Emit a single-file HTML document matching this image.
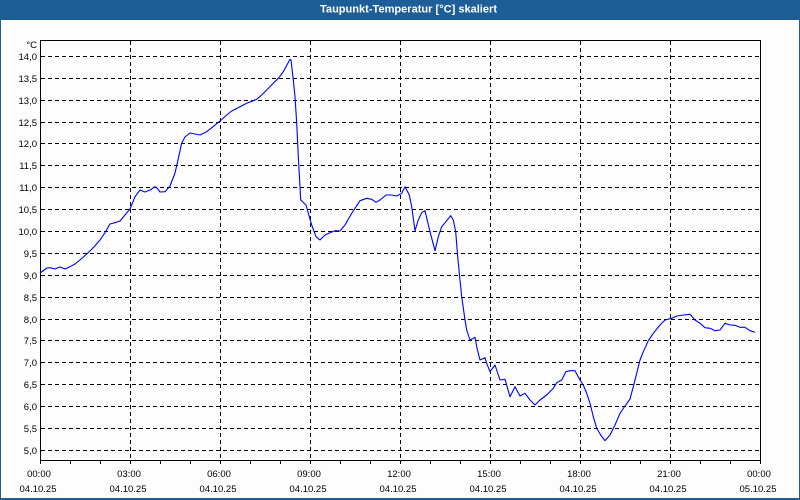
<!DOCTYPE html>
<html>
<head>
<meta charset="utf-8">
<style>
  html,body{margin:0;padding:0;background:#1e5e98;}
  body{width:800px;height:500px;overflow:hidden;position:relative;}
  svg{display:block;}
  text{font-family:"Liberation Sans",sans-serif;}
</style>
</head>
<body>
<svg width="800" height="500" viewBox="0 0 800 500" xmlns="http://www.w3.org/2000/svg">
  <!-- frame -->
  <rect x="0" y="0" width="800" height="500" fill="#1e5e98"/>
  <rect x="1" y="20" width="798" height="478" fill="#fcfdfc"/>
  <!-- title -->
  <text x="408.5" y="12.5" font-size="11" font-weight="bold" fill="#ffffff" text-anchor="middle" textLength="177" lengthAdjust="spacingAndGlyphs">Taupunkt-Temperatur [°C] skaliert</text>

  <!-- horizontal grid -->
  <g stroke="#000" stroke-width="1" stroke-dasharray="4,3" shape-rendering="crispEdges" fill="none">
    <line x1="41" y1="56.5" x2="759" y2="56.5"/>
    <line x1="41" y1="78.5" x2="759" y2="78.5"/>
    <line x1="41" y1="100.5" x2="759" y2="100.5"/>
    <line x1="41" y1="122.5" x2="759" y2="122.5"/>
    <line x1="41" y1="143.5" x2="759" y2="143.5"/>
    <line x1="41" y1="165.5" x2="759" y2="165.5"/>
    <line x1="41" y1="187.5" x2="759" y2="187.5"/>
    <line x1="41" y1="209.5" x2="759" y2="209.5"/>
    <line x1="41" y1="231.5" x2="759" y2="231.5"/>
    <line x1="41" y1="253.5" x2="759" y2="253.5"/>
    <line x1="41" y1="275.5" x2="759" y2="275.5"/>
    <line x1="41" y1="297.5" x2="759" y2="297.5"/>
    <line x1="41" y1="319.5" x2="759" y2="319.5"/>
    <line x1="41" y1="340.5" x2="759" y2="340.5"/>
    <line x1="41" y1="362.5" x2="759" y2="362.5"/>
    <line x1="41" y1="384.5" x2="759" y2="384.5"/>
    <line x1="41" y1="406.5" x2="759" y2="406.5"/>
    <line x1="41" y1="428.5" x2="759" y2="428.5"/>
    <line x1="41" y1="450.5" x2="759" y2="450.5"/>
  </g>
  <!-- vertical grid -->
  <g stroke="#000" stroke-width="1" stroke-dasharray="4,3" shape-rendering="crispEdges" fill="none">
    <line x1="130.5" y1="41" x2="130.5" y2="460"/>
    <line x1="220.5" y1="41" x2="220.5" y2="460"/>
    <line x1="310.5" y1="41" x2="310.5" y2="460"/>
    <line x1="400.5" y1="41" x2="400.5" y2="460"/>
    <line x1="490.5" y1="41" x2="490.5" y2="460"/>
    <line x1="580.5" y1="41" x2="580.5" y2="460"/>
    <line x1="670.5" y1="41" x2="670.5" y2="460"/>
  </g>

  <!-- axes / frame of plot -->
  <g stroke="#000" stroke-width="1" shape-rendering="crispEdges" fill="none">
    <rect x="40.5" y="40.5" width="720" height="420"/>
    <line x1="40.5" y1="460" x2="40.5" y2="464"/>
    <line x1="70.5" y1="460" x2="70.5" y2="464"/>
    <line x1="100.5" y1="460" x2="100.5" y2="464"/>
    <line x1="130.5" y1="460" x2="130.5" y2="464"/>
    <line x1="160.5" y1="460" x2="160.5" y2="464"/>
    <line x1="190.5" y1="460" x2="190.5" y2="464"/>
    <line x1="220.5" y1="460" x2="220.5" y2="464"/>
    <line x1="250.5" y1="460" x2="250.5" y2="464"/>
    <line x1="280.5" y1="460" x2="280.5" y2="464"/>
    <line x1="310.5" y1="460" x2="310.5" y2="464"/>
    <line x1="340.5" y1="460" x2="340.5" y2="464"/>
    <line x1="370.5" y1="460" x2="370.5" y2="464"/>
    <line x1="400.5" y1="460" x2="400.5" y2="464"/>
    <line x1="430.5" y1="460" x2="430.5" y2="464"/>
    <line x1="460.5" y1="460" x2="460.5" y2="464"/>
    <line x1="490.5" y1="460" x2="490.5" y2="464"/>
    <line x1="520.5" y1="460" x2="520.5" y2="464"/>
    <line x1="550.5" y1="460" x2="550.5" y2="464"/>
    <line x1="580.5" y1="460" x2="580.5" y2="464"/>
    <line x1="610.5" y1="460" x2="610.5" y2="464"/>
    <line x1="640.5" y1="460" x2="640.5" y2="464"/>
    <line x1="670.5" y1="460" x2="670.5" y2="464"/>
    <line x1="700.5" y1="460" x2="700.5" y2="464"/>
    <line x1="730.5" y1="460" x2="730.5" y2="464"/>
    <line x1="760.5" y1="460" x2="760.5" y2="464"/>
  </g>

  <!-- y labels -->
  <g font-size="9.5" fill="#000" text-anchor="end">
    <text x="37" y="48">°C</text>
    <text x="37" y="60">14,0</text>
    <text x="37" y="82">13,5</text>
    <text x="37" y="104">13,0</text>
    <text x="37" y="126">12,5</text>
    <text x="37" y="147">12,0</text>
    <text x="37" y="169">11,5</text>
    <text x="37" y="191">11,0</text>
    <text x="37" y="213">10,5</text>
    <text x="37" y="235">10,0</text>
    <text x="37" y="257">9,5</text>
    <text x="37" y="279">9,0</text>
    <text x="37" y="301">8,5</text>
    <text x="37" y="323">8,0</text>
    <text x="37" y="344">7,5</text>
    <text x="37" y="366">7,0</text>
    <text x="37" y="388">6,5</text>
    <text x="37" y="410">6,0</text>
    <text x="37" y="432">5,5</text>
    <text x="37" y="454">5,0</text>
  </g>

  <!-- x labels -->
  <g font-size="9.5" fill="#000" text-anchor="middle">
    <text x="39" y="477">00:00</text><text x="38" y="492">04.10.25</text>
    <text x="129" y="477">03:00</text><text x="128" y="492">04.10.25</text>
    <text x="219" y="477">06:00</text><text x="218" y="492">04.10.25</text>
    <text x="309" y="477">09:00</text><text x="308" y="492">04.10.25</text>
    <text x="399" y="477">12:00</text><text x="398" y="492">04.10.25</text>
    <text x="489" y="477">15:00</text><text x="488" y="492">04.10.25</text>
    <text x="579" y="477">18:00</text><text x="578" y="492">04.10.25</text>
    <text x="669" y="477">21:00</text><text x="668" y="492">04.10.25</text>
    <text x="759" y="477">00:00</text><text x="758" y="492">05.10.25</text>
  </g>

  <!-- series -->
  <polyline fill="none" stroke="#0000ff" stroke-width="1.1" stroke-linejoin="round"
    points="40,273 47,268 50,267.7 55,269 60,267 65,269 70,266.7 75,264 80,260 86.7,254 93,248 100,240 105,232.7 110,224 115,222.7 120,221 125,215 130,209 135,196.7 140,190 145,192 150,190 155,186.7 157,188 160,192 165,191.7 170,186 175,173 178,160 181.7,143 185,137 190,133 195,134 200,135 206.7,131.7 213,126.7 220,121 226.7,115 231.7,111 240,106.7 246.7,103.3 256.7,99.3 261.7,95 266.7,90 273.3,83.3 278.3,78.3 283.3,71.7 290,59.3 291,60 293.3,80 295,96.7 296.7,123 298.3,156.7 300,186.7 300.7,200 306,205 311.7,225 316,236.7 320,240 325,235 330,232.7 335,230.7 340,231 345,225 351.7,213.3 360,200.7 366.7,198.3 371.7,199.3 376,202.3 380,200 386,195 391.7,195 396.7,196 401.7,193.3 405,186.7 409.3,195 411.7,206.7 415,230.7 418.3,220 421.7,212.7 425,210.7 430,231.7 435,250.7 438.3,236.7 441.7,226.7 446.7,220.7 450.7,215.7 453.3,220 455.7,231.7 457.7,256.7 460,280 461.7,296.7 465,320 466.7,330 470,340 475,337.3 476.7,346.7 480,360 485,357.7 486.7,363.3 490,371.7 495,365 500,380 505,379.3 510,396.7 515,386.7 520,396 525,393.3 530,400 535,405 540,400 546.7,395 553.3,388.3 556.7,382.7 561.7,380 566,371.7 570,370.7 575,370.7 580,380 583.3,385 586.7,393.3 590,403.3 593.3,416.7 596.7,428.3 600.7,435 605,440.7 610,435 615,425 620,413.3 625,406 630,399 633.3,386.7 636.7,373.3 640,360 643.3,351.7 648.3,340.7 653.3,333.3 660,325 665,320 671.7,318.3 676.7,316 683.3,315 690,314.3 695,320 700,323.3 705,327.7 710,328.3 715,330.7 720,330 725,323.3 730,325 735,325.3 740,327.3 745,327.3 750,330.7 755,332.3"/>
</svg>
</body>
</html>
